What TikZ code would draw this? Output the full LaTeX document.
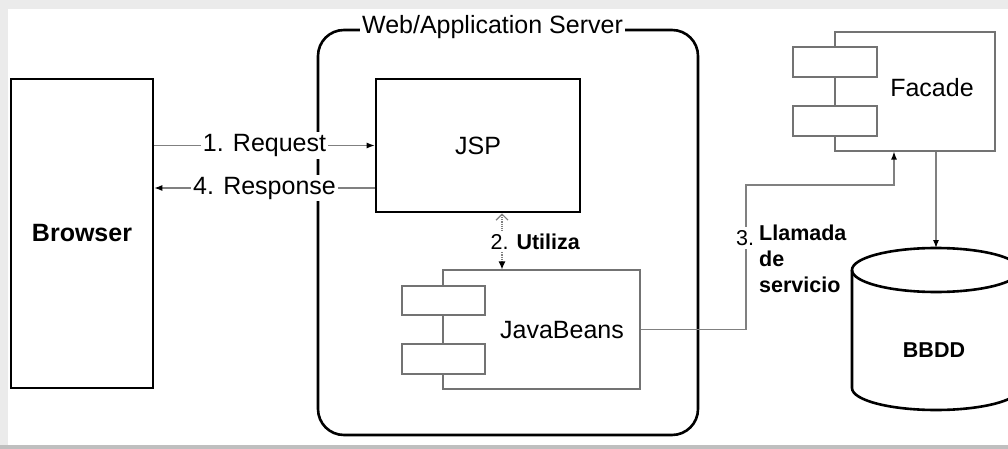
\documentclass[tikz,border=0pt]{standalone}
\usepackage{fontspec}
\setmainfont{Liberation Sans}
\usetikzlibrary{positioning}
\usetikzlibrary{arrows.meta}
\begin{document}
\begin{tikzpicture}
  [x=1pt,y=-1pt,
  box/.style={draw=black,line width=2.6pt,inner sep=0pt},
  part/.style={draw=black!55,line width=1.2pt,fill=white,inner sep=0pt},
  conn/.style={draw=black!50,line width=1.2pt},
  tip/.style={-{Latex[black,length=8pt,width=6pt]}},
  big/.style={font=\fontsize{25}{30}\selectfont},
  small/.style={font=\fontsize{21.5}{26}\selectfont},
  lbl/.style={big,fill=white,inner sep=2pt}]
  \useasboundingbox (0,0) rectangle (1008,449);
  \fill[black!8] (0,0) rectangle (1008,449);
  \fill[black!25] (0,445) rectangle (1008,449);
  \fill[white] (8,9) rectangle (1008,445);

  \node[box,minimum width=142pt,minimum height=309pt,big] (browser) at (82,233.5) {\textbf{Browser}};

  \draw[black,line width=2.6pt,rounded corners=26pt] (318,30) rectangle (698,435);
  \node[lbl] (server) at (492.5,27) {Web/Application Server};

  \node[box,minimum width=204pt,minimum height=133pt,big] (jsp) at (478,145.5) {JSP};

  \node[part,minimum width=197pt,minimum height=119pt] (beans) at (541.5,329.5) {};
  \node[part,minimum width=83pt,minimum height=29pt] (beans1) at (443.5,300.5) {};
  \node[part,minimum width=83pt,minimum height=30pt] (beans2) at (443.5,359) {};
  \node[big] (beanslbl) at (562,330) {JavaBeans};

  \node[part,minimum width=160pt,minimum height=119pt] (facade) at (915,91.5) {};
  \node[part,minimum width=84pt,minimum height=30pt] (facade1) at (835,62) {};
  \node[part,minimum width=84pt,minimum height=30pt] (facade2) at (835,121) {};
  \node[big] (facadelbl) at (932,88) {Facade};

  \draw[black,line width=2.6pt,fill=white] (852,270) -- (852,388) arc[start angle=180,end angle=0,x radius=84,y radius=22] -- (1020,270);
  \draw[black,line width=2.6pt] (936,270) ellipse [x radius=84,y radius=22];
  \coordinate (dbtop) at (936,248);
  \node[small] (bbdd) at (934,350) {\textbf{BBDD}};

  \draw[conn,tip] (browser.east |- jsp.west) -- node[lbl] {1. Request} (jsp.west);
  \draw[conn,tip] (jsp.west |- 0,188) -- node[lbl] {4. Response} (browser.east |- 0,188);
  \draw[conn,densely dotted,{Straight Barb[black!50,length=6pt]}-{Latex[black,length=8pt,width=7pt]}] (jsp.south -| 502,0) -- node[small,fill=white,inner sep=2pt,anchor=west,xshift=-14pt] (uselbl) {2. \textbf{Utiliza}} (beans.north -| 502,0);

  \coordinate (bend1) at (746,185);
  \draw[conn,tip] (beans.east) -| (bend1) -| ([xshift=-21pt]facade.south);
  \node[small,fill=white,inner sep=3pt] (calln) at (745,238) {3.};
  \node[small,anchor=north west,align=left,inner sep=0pt] (calltxt) at (759,225) {\textbf{Llamada}\\\textbf{de}\\\textbf{servicio}};

  \draw[conn,tip] (facade.south -| dbtop) -- (dbtop);
\end{tikzpicture}
\end{document}
